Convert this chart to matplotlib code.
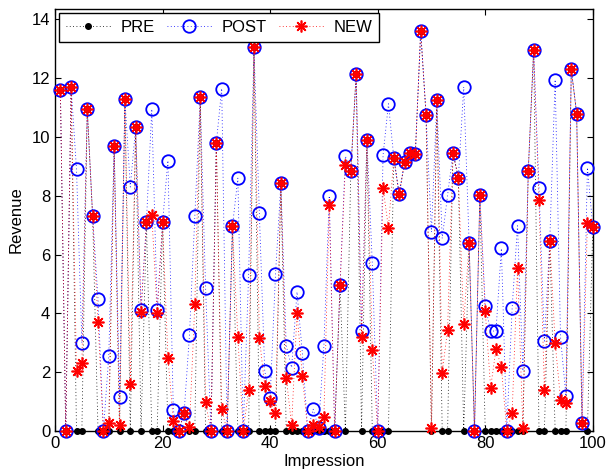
import numpy as np
import matplotlib
matplotlib.use("Agg")
import matplotlib.pyplot as plt

plt.rcParams["font.family"] = ["Liberation Sans", "DejaVu Sans"]
plt.rcParams["font.size"] = 12

impression = list(range(1, 101))

pre = [11.6, 0, 11.7, 0, 0, 10.95, 7.3, 0, 0, 0,
       9.7, 0, 11.3, 0, 10.35, 0, 7.1, 0, 0, 7.1,
       0, 0, 0, 0.6, 0, 0, 11.35, 0, 0, 9.8,
       0, 0, 6.97, 0, 0, 0, 13.05, 0, 0, 0,
       0, 8.42, 0, 0, 0, 0, 0, 0, 0, 0,
       0, 0, 4.96, 0, 8.83, 12.15, 0, 9.91, 0, 0,
       0, 0, 9.3, 8.05, 9.15, 9.45, 9.42, 13.6, 10.75, 0,
       11.25, 0, 0, 9.47, 8.61, 0, 6.41, 0, 8.02, 0,
       0, 0, 0, 0, 0, 0, 0, 8.84, 12.95, 0,
       0, 6.46, 0, 0, 0, 12.3, 10.8, 0.26, 0, 6.94]

post = [11.6, 0, 11.7, 8.9, 3.0, 10.95, 7.3, 4.5, 0, 2.55,
        9.7, 1.16, 11.3, 8.3, 10.35, 4.12, 7.1, 10.95, 4.12, 7.1,
        9.2, 0.7, 0, 0.6, 3.25, 7.3, 11.35, 4.87, 0, 9.8,
        11.65, 0, 6.97, 8.6, 0, 5.3, 13.05, 7.4, 2.04, 1.11,
        5.33, 8.42, 2.9, 2.16, 4.73, 2.64, 0, 0.74, 0.1, 2.89,
        8.0, 0, 4.96, 9.35, 8.83, 12.15, 3.41, 9.91, 5.7, 0,
        9.38, 11.13, 9.3, 8.05, 9.15, 9.45, 9.42, 13.6, 10.75, 6.77,
        11.25, 6.55, 8.02, 9.47, 8.61, 11.7, 6.41, 0, 8.02, 4.26,
        3.4, 3.4, 6.21, 0, 4.17, 6.98, 2.05, 8.84, 12.95, 8.25,
        3.06, 6.46, 11.95, 3.2, 1.19, 12.3, 10.8, 0.26, 8.96, 6.94]

new = [11.6, 0, 11.7, 2.05, 2.33, 10.95, 7.3, 3.72, 0, 0.26,
       9.7, 0.2, 11.3, 1.6, 10.35, 4.05, 7.1, 7.35, 4.0, 7.1,
       2.5, 0.35, 0, 0.6, 0.12, 4.32, 11.35, 0.97, 0, 9.8,
       0.74, 0, 6.97, 3.2, 0, 1.39, 13.05, 3.18, 1.54, 1.03,
       0.6, 8.42, 1.82, 0.2, 4.0, 1.88, 0, 0.2, 0.13, 0.46,
       7.7, 0, 4.96, 9.06, 8.83, 12.15, 3.2, 9.91, 2.75, 0,
       8.27, 6.91, 9.3, 8.05, 9.15, 9.45, 9.42, 13.6, 10.75, 0.09,
       11.25, 1.98, 3.45, 9.47, 8.61, 3.64, 6.41, 0, 8.02, 4.08,
       1.47, 2.78, 2.19, 0, 0.6, 5.53, 0.09, 8.84, 12.95, 7.85,
       1.39, 6.46, 3.01, 1.07, 0.94, 12.3, 10.8, 0.26, 7.09, 6.94]

fig = plt.figure(figsize=(6.07, 4.74), dpi=100)
ax = fig.add_axes([0.0906, 0.0907, 0.886, 0.890])

# sparse dotted lines, markers on top
dots = (0, (1, 3))
ax.plot(impression, pre, ls=dots, color='k', lw=0.6, marker='o', ms=4,
        mfc='k', mec='k', label='PRE', clip_on=False, zorder=3)
ax.plot(impression, post, ls=dots, color='b', lw=0.6, marker='o', ms=9,
        mfc='none', mec='b', mew=1.3, label='POST', clip_on=False, zorder=4)
ax.plot(impression, new, ls=dots, color='r', lw=0.6, marker=(8, 2, 0), ms=8.5,
        mec='r', mew=1.2, label='NEW', clip_on=False, zorder=5)

ax.set_xlim(0, 100)
ax.set_ylim(0, 14.35)
ax.set_xticks(np.arange(0, 101, 20))
ax.set_yticks(np.arange(0, 15, 2))
ax.tick_params(direction='in', top=True, right=True, length=4, width=0.8,
               labelsize=12)
for s in ax.spines.values():
    s.set_linewidth(1.0)

ax.set_xlabel('Impression', labelpad=2)
ax.set_ylabel('Revenue', labelpad=6)

leg = ax.legend(loc='upper left', ncol=3, fancybox=False, framealpha=1,
                edgecolor='k', handlelength=2.7, handletextpad=0.6,
                columnspacing=0.7, borderaxespad=0.25, borderpad=0.4,
                fontsize=12)
leg.get_frame().set_linewidth(1.0)
leg.set_zorder(10)

fig.savefig('out.png', dpi=100)
